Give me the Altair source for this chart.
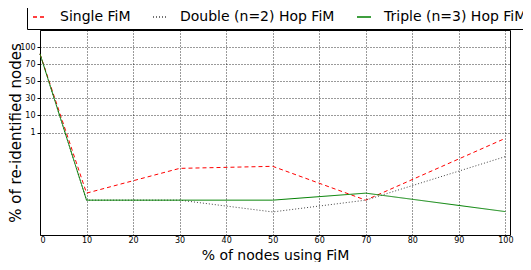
import altair as alt
import pandas as pd

# x positions (% of nodes using FiM)
x_vals = [0, 10, 30, 50, 70, 100]
# y values in the chart's (evenly spaced tick) axis units
single = [5.6, -2.55, -1.1, -0.98, -2.96, 0.66]
double = [5.6, -2.96, -2.96, -3.65, -2.96, -0.41]
triple = [5.6, -2.96, -2.96, -2.96, -2.55, -3.63]

series_names = ["Single FiM", "Double (n=2) Hop FiM", "Triple (n=3) Hop FiM"]
series_colors = ["#ff0000", "#444444", "#008000"]
series_dash = [[4, 3], [1, 2], [1, 0]]

y_tick_pos = [1, 2, 3, 4, 5, 6]
y_tick_labels = ["1", "10", "30", "50", "70", "100"]
x_ticks = [0, 10, 20, 30, 40, 50, 60, 70, 80, 90, 100]

rows = []
for name, ys in zip(series_names, [single, double, triple]):
    for xv, yv in zip(x_vals, ys):
        rows.append({"x": xv, "y": yv, "series": name})
df = pd.DataFrame(rows)

label_map = "{" + ",".join(f"'{p}':'{l}'" for p, l in zip(y_tick_pos, y_tick_labels)) + "}"

chart = (
    alt.Chart(df)
    .mark_line(strokeWidth=1)
    .encode(
        x=alt.X(
            "x:Q",
            scale=alt.Scale(domain=[0, 101], nice=False, zero=False),
            axis=alt.Axis(
                values=x_ticks,
                title="% of nodes using FiM",
                tickSize=0,
                labelPadding=1,
                titlePadding=4,
                titleFontSize=14,
            ),
        ),
        y=alt.Y(
            "y:Q",
            scale=alt.Scale(domain=[-5, 7], nice=False, zero=False),
            axis=alt.Axis(
                values=y_tick_pos,
                labelExpr=f"{label_map}[datum.value]",
                title="% of re-identified nodes",
                tickSize=3,
                labelPadding=2,
                titleFontSize=15,
                titleX=-20,
                titleBaseline="alphabetic",
            ),
        ),
        color=alt.Color(
            "series:N",
            scale=alt.Scale(domain=series_names, range=series_colors),
            title=None,
        ),
        strokeDash=alt.StrokeDash(
            "series:N",
            scale=alt.Scale(domain=series_names, range=series_dash),
            title=None,
        ),
        order=alt.Order("x:Q"),
    )
    .properties(
        width=470,
        height=205,
        autosize=alt.AutoSizeParams(type="none"),
        padding={"left": 32, "top": 22, "right": 13, "bottom": 27},
    )
    .configure_view(stroke="black", strokeWidth=1)
    .configure_axis(
        domain=False,
        labelFont="DejaVu Sans",
        labelFontSize=8,
        labelColor="black",
        titleFont="DejaVu Sans",
        titleFontWeight="normal",
        titleColor="black",
        grid=True,
        gridColor="black",
        gridDash=[1, 2],
        gridOpacity=1,
        gridWidth=0.8,
        tickColor="black",
    )
    .configure_legend(
        orient="none",
        legendX=-13,
        legendY=-26,
        direction="horizontal",
        columns=3,
        strokeColor="black",
        fillColor="white",
        padding=5,
        cornerRadius=0,
        labelFont="DejaVu Sans",
        labelFontSize=14,
        labelColor="black",
        labelLimit=300,
        symbolType="stroke",
        symbolSize=196,
        symbolStrokeWidth=1.5,
        labelOffset=12,
        columnPadding=19,
    )
)

chart.save("out.html", embed_options={"renderer": "svg", "actions": False})
